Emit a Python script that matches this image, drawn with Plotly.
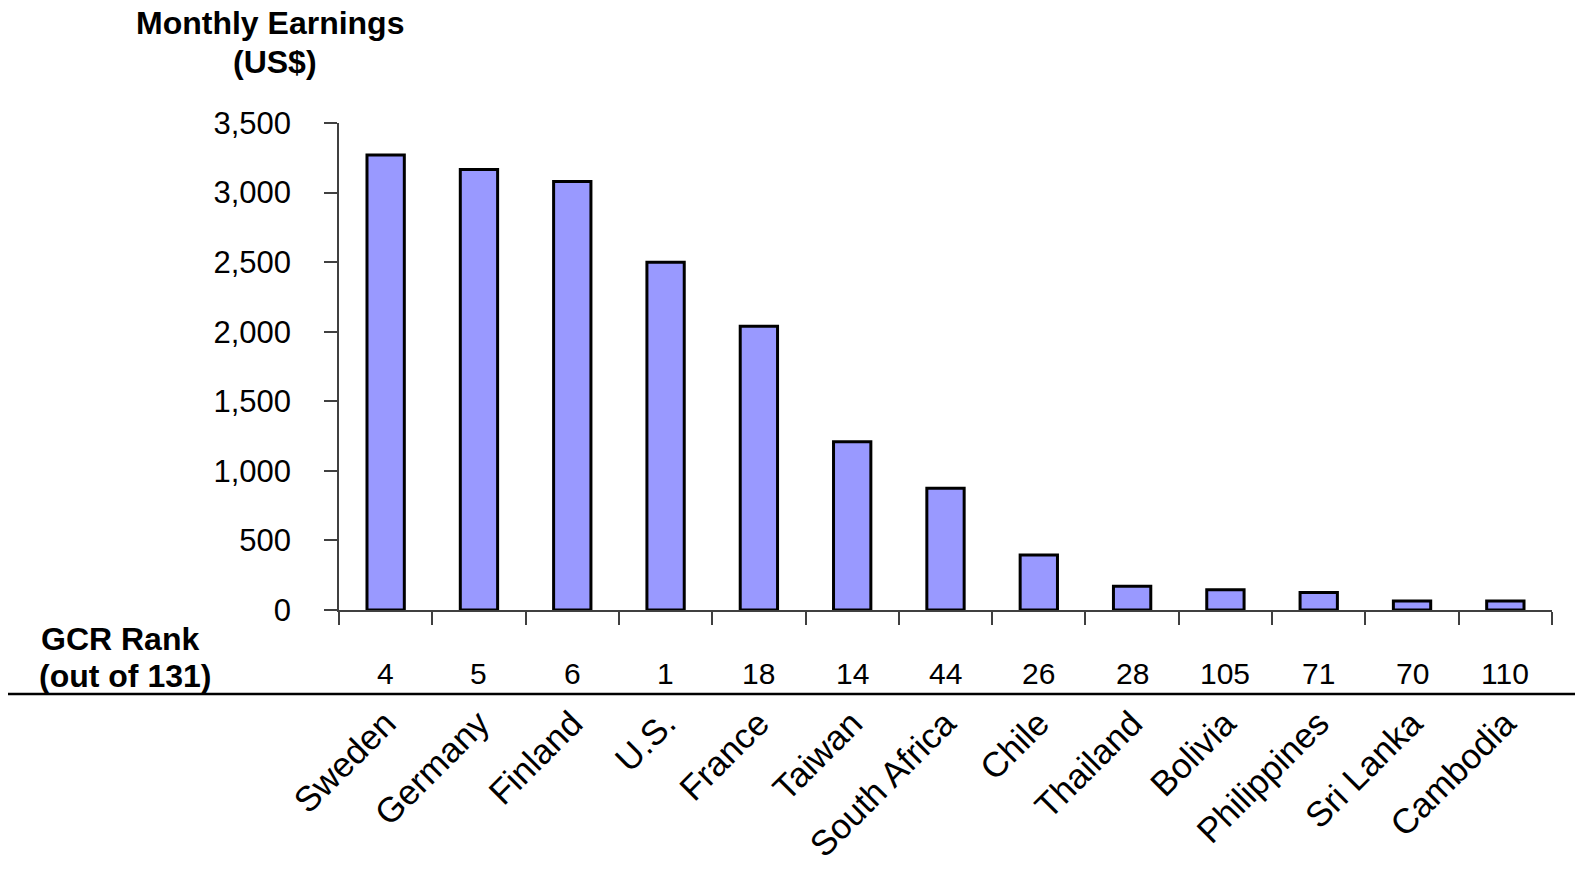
import plotly.graph_objects as go

# Monthly earnings (US$) by country, with Global Competitiveness Report rank
countries = ["Sweden", "Germany", "Finland", "U.S.", "France", "Taiwan", "South Africa",
             "Chile", "Thailand", "Bolivia", "Philippines", "Sri Lanka", "Cambodia"]
earnings = [3270, 3165, 3080, 2500, 2040, 1210, 875, 395, 170, 145, 125, 65, 65]
gcr_rank = [4, 5, 6, 1, 18, 14, 44, 26, 28, 105, 71, 70, 110]
y_ticks = [0, 500, 1000, 1500, 2000, 2500, 3000, 3500]

FONT = "Liberation Sans, Arial, sans-serif"
AXIS_COLOR = "#404040"

W, H = 1575, 869
ML, MR, MT, MB = 339, 23, 123, 259
plot_h = H - MT - MB
plot_w = W - ML - MR


def py(px):
    """Pixel row -> paper y."""
    return (H - MB - px) / plot_h


def pxx(px):
    """Pixel column -> paper x."""
    return (px - ML) / plot_w


fig = go.Figure(
    go.Bar(
        x=countries,
        y=earnings,
        marker=dict(color="#9999FF", line=dict(color="black", width=3)),
        hoverinfo="x+y",
    )
)


def label(text, x, y, size=32):
    return dict(text=f"<b>{text}</b>", xref="paper", yref="paper",
                x=pxx(x), y=py(y), xanchor="center", yanchor="middle",
                showarrow=False, font=dict(family=FONT, size=size, color="black"))


annotations = [
    label("Monthly Earnings", 270, 23),
    label("(US$)", 275, 62),
    label("GCR Rank", 120, 639),
    label("(out of 131)", 125, 676),
]
for c, r in zip(countries, gcr_rank):
    annotations.append(dict(text=str(r), xref="x", yref="paper", x=c, y=py(673),
                            xanchor="center", yanchor="middle", showarrow=False,
                            font=dict(family=FONT, size=30, color="black")))

fig.update_layout(
    width=W, height=H,
    margin=dict(l=ML, r=MR, t=MT, b=MB, autoexpand=False),
    paper_bgcolor="white", plot_bgcolor="white",
    bargap=0.6,
    showlegend=False,
    font=dict(family=FONT, size=30, color="black"),
    annotations=annotations,
    shapes=[
        # separator line under the rank row
        dict(type="line", xref="paper", yref="paper", x0=pxx(8), x1=pxx(1575),
             y0=py(694), y1=py(694), line=dict(color="black", width=2.5)),
    ],
    xaxis=dict(
        type="category",
        showline=True, linecolor=AXIS_COLOR, linewidth=1.5,
        ticks="outside", tickson="boundaries", ticklen=13,
        tickcolor=AXIS_COLOR, tickwidth=1.5,
        tickangle=-45, ticklabelstandoff=77,
        tickfont=dict(family=FONT, size=35, color="black"),
        showgrid=False, zeroline=False,
    ),
    yaxis=dict(
        range=[0, 3500],
        tickvals=y_ticks,
        tickformat=",d",
        showline=True, linecolor=AXIS_COLOR, linewidth=1.5,
        ticks="outside", ticklen=13, tickcolor=AXIS_COLOR, tickwidth=1.5,
        ticklabelstandoff=27,
        tickfont=dict(family=FONT, size=31, color="black"),
        showgrid=False, zeroline=False,
    ),
)

fig.write_html("out.html")
